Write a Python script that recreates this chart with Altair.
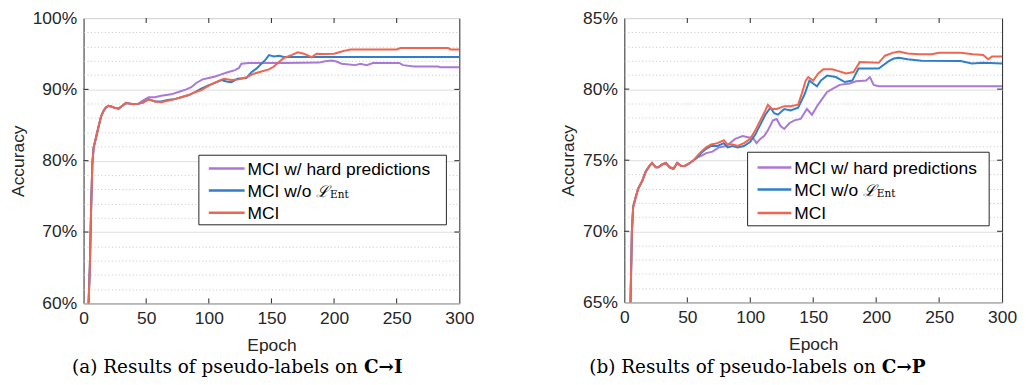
import altair as alt
import pandas as pd

SERIES = ["MCI w/ hard predictions", "MCI w/o L_Ent", "MCI"]
COLORS = ["#AA78D6", "#2F7FCA", "#EF6650"]

X_TICKS = [0, 50, 100, 150, 200, 250, 300]

# ---------------- panel (a): C -> I ----------------
A_EARLY_EP = [3, 4, 5, 6, 7, 8, 10, 12, 14, 16, 18, 20, 22, 25, 28, 31, 34, 37, 40, 44]
A_EARLY_ACC = [40, 60, 65, 73, 79.5, 81.8, 83.3, 84.8, 86.2, 87.0, 87.5, 87.7, 87.6, 87.4, 87.3, 87.7, 88.1, 88.0, 87.9, 88.0]

A_HARD_EP = [47, 52, 57, 62, 70, 77, 82, 86, 90, 95, 100, 105, 110, 115, 121, 124, 126, 132, 140, 150, 160,
             188, 193, 198, 202, 206, 217, 221, 226, 231, 252, 255, 264, 283, 285, 300]
A_HARD_ACC = [88.4, 88.9, 88.9, 89.1, 89.3, 89.7, 90.0, 90.3, 90.9, 91.4, 91.6, 91.8, 92.1, 92.4, 92.7, 93.0, 93.6, 93.7, 93.7, 93.7, 93.7,
              93.75, 93.95, 94.05, 93.9, 93.6, 93.4, 93.6, 93.4, 93.7, 93.7, 93.4, 93.2, 93.2, 93.1, 93.1]

A_NOENT_EP = [47, 52, 57, 62, 67, 72, 78, 84, 89, 94, 100, 105, 110, 114, 118, 123, 130, 134, 138, 142, 145, 148,
              152, 156, 160, 300]
A_NOENT_ACC = [88.1, 88.6, 88.3, 88.3, 88.5, 88.6, 88.9, 89.2, 89.6, 90.1, 90.6, 90.9, 91.3, 91.1, 91.0, 91.5, 91.6, 92.4, 92.9, 93.6, 94.1, 94.8,
               94.6, 94.7, 94.55, 94.55]

A_MCI_EP = [47, 52, 57, 62, 67, 72, 78, 84, 89, 94, 98, 103, 108, 112, 118, 124, 130, 136, 142, 148, 152, 155, 160,
            166, 171, 176, 182, 186, 192, 200, 204, 208, 213, 250, 253, 291, 293, 300]
A_MCI_ACC = [88.1, 88.6, 88.3, 88.2, 88.4, 88.6, 88.9, 89.2, 89.6, 89.9, 90.3, 90.8, 91.2, 91.5, 91.3, 91.4, 91.7, 92.2, 92.5, 92.8, 93.2, 93.7, 94.4,
             94.8, 95.2, 95.0, 94.5, 95.0, 94.95, 95.0, 95.2, 95.4, 95.6, 95.6, 95.8, 95.8, 95.6, 95.6]

A_Y_VALUES = [60, 62, 64, 66, 68, 70, 72, 74, 76, 78, 80, 82, 84, 86, 88, 90, 92, 94, 96, 98, 100]
A_Y_MAJOR = [70, 80, 90]

# ---------------- panel (b): C -> P ----------------
B_EARLY_EP = [3, 5, 6, 7, 9, 11, 14, 17, 20, 22, 25, 27, 30, 33, 36, 39, 42, 45, 48, 52, 55]
B_EARLY_ACC = [55, 65.5, 70.0, 71.7, 72.4, 73.0, 73.5, 74.2, 74.6, 74.8, 74.5, 74.5, 74.7, 74.8, 74.5, 74.4, 74.8, 74.6, 74.6, 74.8, 75.0]

B_HARD_EP = [58, 61, 65, 70, 75, 81, 88, 94, 99, 102, 105, 108, 111, 114, 118, 121, 124, 127, 131, 135, 140,
             145, 149, 153, 157, 161, 166, 171, 179, 184, 192, 195, 198, 202, 300]
B_HARD_ACC = [75.2, 75.3, 75.5, 75.6, 75.9, 76.0, 76.5, 76.7, 76.6, 76.6, 76.2, 76.5, 76.7, 77.1, 77.8, 77.9, 77.4, 77.2, 77.6, 77.8, 77.9,
              78.6, 78.2, 78.8, 79.3, 79.8, 80.05, 80.3, 80.4, 80.55, 80.6, 80.85, 80.3, 80.2, 80.2]

B_NOENT_EP = [58, 61, 65, 69, 74, 79, 82, 86, 90, 95, 100, 104, 108, 112, 116, 119, 122, 127, 132, 138, 143, 147,
              150, 153, 156, 161, 168, 175, 181, 186, 202, 210, 214, 218, 225, 236, 267, 276, 285, 300]
B_NOENT_ACC = [75.2, 75.5, 75.8, 76.0, 76.0, 76.2, 75.9, 76.0, 75.9, 76.0, 76.3, 76.8, 77.5, 78.2, 78.7, 78.3, 78.2, 78.6, 78.5, 78.7, 79.6, 80.6,
               80.4, 80.2, 80.6, 80.95, 80.85, 80.5, 80.6, 81.45, 81.45, 81.97, 82.15, 82.2, 82.1, 82.0, 81.97, 81.8, 81.85, 81.8]

B_MCI_EP = [58, 61, 65, 69, 74, 79, 82, 86, 90, 95, 100, 104, 108, 112, 114, 117, 121, 127, 132, 138, 141, 144,
            146, 150, 154, 158, 165, 169, 176, 182, 187, 202, 207, 213, 218, 225, 234, 244, 250, 267, 277, 285, 289, 292, 300]
B_MCI_ACC = [75.3, 75.6, 75.9, 76.1, 76.2, 76.4, 76.1, 76.1, 76.0, 76.2, 76.5, 77.1, 77.8, 78.5, 78.9, 78.6, 78.6, 78.8, 78.8, 78.9, 79.7, 80.6,
             80.85, 80.6, 81.1, 81.4, 81.4, 81.3, 81.1, 81.2, 81.9, 81.85, 82.35, 82.55, 82.65, 82.5, 82.45, 82.45, 82.55, 82.55, 82.45, 82.4, 82.1, 82.3, 82.3]

B_Y_VALUES = [65, 66, 67, 68, 69, 70, 71, 72, 73, 74, 75, 76, 77, 78, 79, 80, 81, 82, 83, 84, 85]
B_Y_MAJOR = [70, 75, 80]

SANS = "Liberation Sans"
SERIF = "DejaVu Serif"
AX = "#262626"


def build_df(early_ep, early_acc, series_eps, series_accs):
    rows = []
    for name, eps, accs in zip(SERIES, series_eps, series_accs):
        for e, a in zip(early_ep + eps, early_acc + accs):
            rows.append({"epoch": e, "acc": a, "series": name})
    return pd.DataFrame(rows)


def panel(df, ydom, yvals, ymajor, major_step, width, height, leg, caption_plain, caption_bold, bold_x, cap_y):
    xscale = alt.Scale(domain=[0, 300], nice=False, zero=False)
    yscale = alt.Scale(domain=ydom, nice=False, zero=False)
    test = f"datum.value % {major_step} === 0"
    xaxis = alt.Axis(values=X_TICKS, title="Epoch", grid=False, ticks=False, domain=False,
                     labelFontSize=17.5, labelFont=SANS, labelColor=AX, labelPadding=6,
                     labelFlush=False, labelOverlap=False,
                     titleFontSize=17.5, titleFont=SANS, titleColor=AX, titleFontWeight="normal",
                     titlePadding=10)
    yaxis = alt.Axis(values=yvals, title="Accuracy", ticks=False, domain=False,
                     labelExpr=f"{test} ? datum.value + '%' : ''",
                     labelFontSize=17.5, labelFont=SANS, labelColor=AX, labelPadding=7,
                     labelFlush=False, labelOverlap=False,
                     titleFontSize=17.5, titleFont=SANS, titleColor=AX, titleFontWeight="normal",
                     titlePadding=5,
                     grid=True,
                     gridColor={"condition": {"test": test, "value": "#dedede"}, "value": "#c6c6c6"},
                     gridDash={"condition": {"test": test, "value": []}, "value": [1, 2.5]},
                     gridWidth=1)
    X = lambda: alt.X("epoch:Q", scale=xscale, axis=xaxis)
    Y = lambda: alt.Y("acc:Q", scale=yscale, axis=yaxis)

    layers = []
    for i, name in enumerate(SERIES):
        layers.append(
            alt.Chart(df).transform_filter(alt.datum.series == name)
            .mark_line(clip=True, strokeWidth=2, color=COLORS[i])
            .encode(x=X(), y=Y())
        )

    # inner ticks (MATLAB style)
    tx = pd.DataFrame({"epoch": X_TICKS[1:-1]})
    ty = pd.DataFrame({"acc": ymajor})
    for y1, y2 in [(height, height - 5), (0, 5)]:
        layers.append(alt.Chart(tx).mark_rule(color=AX, strokeWidth=1).encode(
            x=X(), y=alt.value(y1), y2=alt.value(y2)))
    for x1, x2 in [(0, 5), (width, width - 5)]:
        layers.append(alt.Chart(ty).mark_rule(color=AX, strokeWidth=1).encode(
            y=Y(), x=alt.value(x1), x2=alt.value(x2)))

    one = pd.DataFrame({"k": [0]})
    bx0, bx1, by0, by1, lx0, lx1, tx0, rows = leg
    layers.append(alt.Chart(one).mark_rect(fill="white", stroke=AX, strokeWidth=1).encode(
        x=alt.value(bx0), x2=alt.value(bx1), y=alt.value(by0), y2=alt.value(by1)))
    labels = ["MCI w/ hard predictions", "MCI w/o", "MCI"]
    for i, ry in enumerate(rows):
        layers.append(alt.Chart(one).mark_rule(color=COLORS[i], strokeWidth=2.5).encode(
            x=alt.value(lx0), x2=alt.value(lx1), y=alt.value(ry)))
        layers.append(alt.Chart(one).mark_text(align="left", baseline="alphabetic", font=SANS,
                                               fontSize=17.5, color="black").encode(
            x=alt.value(tx0), y=alt.value(ry + 6.3), text=alt.value(labels[i])))
    ry = rows[1]
    layers.append(alt.Chart(one).mark_text(align="left", baseline="alphabetic", font=SERIF,
                                           fontSize=16, fontStyle="italic", color="black").encode(
        x=alt.value(tx0 + 69), y=alt.value(ry + 6.3), text=alt.value("ℒ")))
    layers.append(alt.Chart(one).mark_text(align="left", baseline="alphabetic", font=SERIF,
                                           fontSize=10.5, color="black").encode(
        x=alt.value(tx0 + 83), y=alt.value(ry + 7.5), text=alt.value("Ent")))

    # caption
    layers.append(alt.Chart(one).mark_text(align="right", baseline="alphabetic", font=SERIF,
                                           fontSize=18.5, color="black").encode(
        x=alt.value(bold_x - 6), y=alt.value(cap_y), text=alt.value(caption_plain)))
    layers.append(alt.Chart(one).mark_text(align="left", baseline="alphabetic", font=SERIF,
                                           fontSize=18.5, fontWeight="bold", color="black").encode(
        x=alt.value(bold_x), y=alt.value(cap_y), text=alt.value(caption_bold)))

    return alt.layer(*layers).properties(width=width, height=height)


df_a = build_df(A_EARLY_EP, A_EARLY_ACC, [A_HARD_EP, A_NOENT_EP, A_MCI_EP], [A_HARD_ACC, A_NOENT_ACC, A_MCI_ACC])
df_b = build_df(B_EARLY_EP, B_EARLY_ACC, [B_HARD_EP, B_NOENT_EP, B_MCI_EP], [B_HARD_ACC, B_NOENT_ACC, B_MCI_ACC])

PAD_TOP = -1
TOP = 8 + PAD_TOP + 8.75   # page y of the plot top
HA, HB = round(303 - TOP), round(302 - TOP)
WA, WB = 378, 380
ka = HA / 296.0
kb = HB / 295.0
sx = WB / 387.0
leg_a = (116, 365, round((149 - 7) * ka), round((222 - 7) * ka), 126, 162, 165,
         [(163 - 7) * ka, (186 - 7) * ka, (209 - 7) * ka])
leg_b = (round(126 * sx), round(374 * sx), round((146.7 - 7) * kb), round((222.3 - 7) * kb),
         round(136 * sx), round(171 * sx), round(174 * sx),
         [(162 - 7) * kb, (185 - 7) * kb, (209.3 - 7) * kb])

CAP_Y = round(373 - TOP)
left = panel(df_a, [60, 100], A_Y_VALUES, A_Y_MAJOR, 10, WA, HA, leg_a,
             "(a) Results of pseudo-labels on", "C→I", 282, CAP_Y)
right = panel(df_b, [65, 85], B_Y_VALUES, B_Y_MAJOR, 5, WB, HB, leg_b,
              "(b) Results of pseudo-labels on", "C→P", round(264 * sx), CAP_Y)

chart = alt.hconcat(left, right, spacing=84).properties(
    padding={"left": 0, "top": PAD_TOP, "right": 0, "bottom": 0}
).configure_view(stroke=AX, strokeWidth=1)

chart.save("out.html", embed_options={"renderer": "svg", "actions": False})
